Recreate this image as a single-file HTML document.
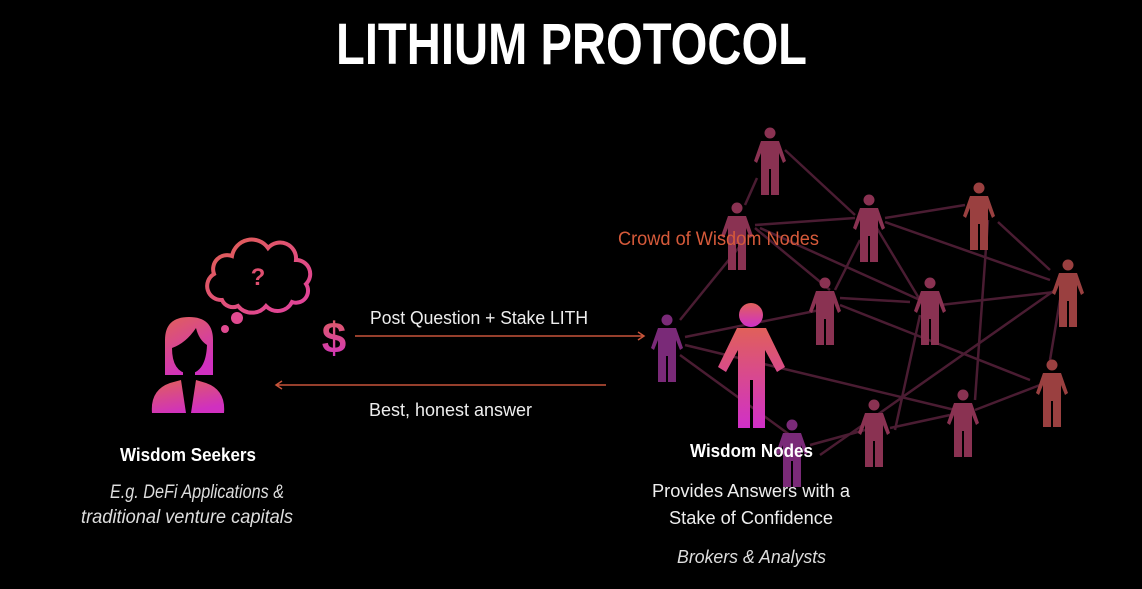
<!DOCTYPE html>
<html><head><meta charset="utf-8"><style>
html,body{margin:0;padding:0;background:#000;}
svg{display:block}
text{font-family:"Liberation Sans Narrow","Liberation Sans",sans-serif;}
</style></head><body>
<svg width="1142" height="589" viewBox="0 0 1142 589" xmlns="http://www.w3.org/2000/svg">
<defs>
<linearGradient id="g" x1="0" y1="0" x2="0.4" y2="1">
<stop offset="0" stop-color="#e0605a"/><stop offset="1" stop-color="#d030c0"/></linearGradient>
<linearGradient id="gv" x1="0" y1="0" x2="0" y2="1">
<stop offset="0" stop-color="#e0605a"/><stop offset="1" stop-color="#d030c8"/></linearGradient>
<linearGradient id="gc" x1="0" y1="0" x2="1" y2="1">
<stop offset="0" stop-color="#e06050"/><stop offset="1" stop-color="#e040a0"/></linearGradient>
<path id="p" d="M-9,8 H9 L16,28 L13,30 L9,20 V62 H1 V36 H-1 V62 H-9 V20 L-13,30 L-16,28 Z"/>
</defs>
<rect width="1142" height="589" fill="#000"/>
<text x="336" y="64" font-size="58" font-weight="bold" fill="#fff" textLength="471" lengthAdjust="spacingAndGlyphs" style="font-family:'Liberation Sans',sans-serif">LITHIUM PROTOCOL</text>

<g stroke="#4a1c32" stroke-width="2.5" fill="none">
<path d="M757,178 L745,205 M785,150 L855,215 M755,225 L855,218 M755,228 L830,290 M760,228 L920,300 M745,240 L680,320 M885,218 L965,205 M885,222 L1050,280 M875,225 L920,300 M860,240 L835,290 M998,222 L1050,270 M988,220 L975,400 M1055,292 L940,305 M1055,290 L820,455 M1060,300 L1050,360 M840,298 L910,302 M840,305 L1030,380 M685,337 L820,310 M685,345 L955,410 M680,355 L790,435 M920,315 L895,430 M975,410 L1040,385 M890,428 L950,415 M810,445 L865,430"/>
</g>
<g fill="#8a3252">
<use href="#p" x="770" y="133"/><circle cx="770" cy="133" r="5.5"/>
<use href="#p" x="737" y="208"/><circle cx="737" cy="208" r="5.5"/>
<use href="#p" x="869" y="200"/><circle cx="869" cy="200" r="5.5"/>
<use href="#p" x="825" y="283"/><circle cx="825" cy="283" r="5.5"/>
<use href="#p" x="930" y="283"/><circle cx="930" cy="283" r="5.5"/>
<use href="#p" x="874" y="405"/><circle cx="874" cy="405" r="5.5"/>
<use href="#p" x="963" y="395"/><circle cx="963" cy="395" r="5.5"/>
</g>
<g fill="#9a4040">
<use href="#p" x="979" y="188"/><circle cx="979" cy="188" r="5.5"/>
<use href="#p" x="1068" y="265"/><circle cx="1068" cy="265" r="5.5"/>
<use href="#p" x="1052" y="365"/><circle cx="1052" cy="365" r="5.5"/>
</g>
<g fill="#7a2a78">
<use href="#p" x="667" y="320"/><circle cx="667" cy="320" r="5.5"/>
<use href="#p" x="792" y="425"/><circle cx="792" cy="425" r="5.5"/>
</g>
<g fill="url(#gv)">
<circle cx="751" cy="315" r="12"/>
<path d="M737,328 H766 L785,367 L777,372 L765,350 V428 H753 V380 H750 V428 H738 V350 L726,372 L718,367 Z"/>
</g>

<text x="618" y="245" font-size="19" fill="#d65a3a" textLength="201" lengthAdjust="spacingAndGlyphs">Crowd of Wisdom Nodes</text>

<!-- woman -->
<g fill="url(#g)">
<path d="M165,375 V340 Q165,317 189,317 Q213,317 213,340 V375 Z"/>
<path d="M152,413 Q150,390 170,383 L181,380 L186,413 Z M224,413 Q226,390 206,383 L196,380 L191,413 Z"/>
</g>
<path d="M172,348 Q186,343 196,328 Q199,340 207,345 Q206,372 189,374 Q172,372 172,348 Z" fill="#000"/>
<path d="M183,370 H195 V383 H183 Z" fill="#000"/>
<!-- cloud -->
<path d="M222,300 a14,14 0 0 1 -8,-26 a14,14 0 0 1 18,-18 a20,20 0 0 1 36,-8 a16,16 0 0 1 28,12 a14,14 0 0 1 10,24 a12,12 0 0 1 -14,18 a16,16 0 0 1 -26,4 a18,18 0 0 1 -28,0 a12,12 0 0 1 -16,-6 Z" fill="none" stroke="url(#gc)" stroke-width="4"/>
<text x="258" y="285" font-size="24" font-weight="bold" fill="#e04f70" text-anchor="middle" style="font-family:'Liberation Sans',sans-serif">?</text>
<circle cx="237" cy="318" r="6" fill="#e04a90"/>
<circle cx="225" cy="329" r="4" fill="#e04a90"/>
<text x="334" y="353" font-size="44" font-weight="bold" fill="url(#gv)" text-anchor="middle" style="font-family:'Liberation Sans',sans-serif">$</text>

<g stroke="#c8543a" stroke-width="1.5" fill="none">
<path d="M355,336 H644 M638,332 L644,336 L638,340"/>
<path d="M276,385 H606 M282,381 L276,385 L282,389"/>
</g>
<text x="370" y="324" font-size="18" fill="#eee" textLength="218" lengthAdjust="spacingAndGlyphs">Post Question + Stake LITH</text>
<text x="369" y="416" font-size="18" fill="#eee" textLength="163" lengthAdjust="spacingAndGlyphs">Best, honest answer</text>

<text x="120" y="461" font-size="18" font-weight="bold" fill="#fff" textLength="136" lengthAdjust="spacingAndGlyphs">Wisdom Seekers</text>
<text x="110" y="498" font-size="19" font-style="italic" fill="#ddd" textLength="174" lengthAdjust="spacingAndGlyphs">E.g. DeFi Applications &amp;</text>
<text x="81" y="523" font-size="19" font-style="italic" fill="#ddd" textLength="212" lengthAdjust="spacingAndGlyphs">traditional venture capitals</text>

<text x="690" y="457" font-size="18" font-weight="bold" fill="#fff" textLength="123" lengthAdjust="spacingAndGlyphs">Wisdom Nodes</text>
<text x="652" y="497" font-size="18" fill="#eee" textLength="198" lengthAdjust="spacingAndGlyphs">Provides Answers with a</text>
<text x="669" y="524" font-size="18" fill="#eee" textLength="164" lengthAdjust="spacingAndGlyphs">Stake of Confidence</text>
<text x="677" y="563" font-size="18" font-style="italic" fill="#ddd" textLength="149" lengthAdjust="spacingAndGlyphs">Brokers &amp; Analysts</text>
</svg>
</body></html>
